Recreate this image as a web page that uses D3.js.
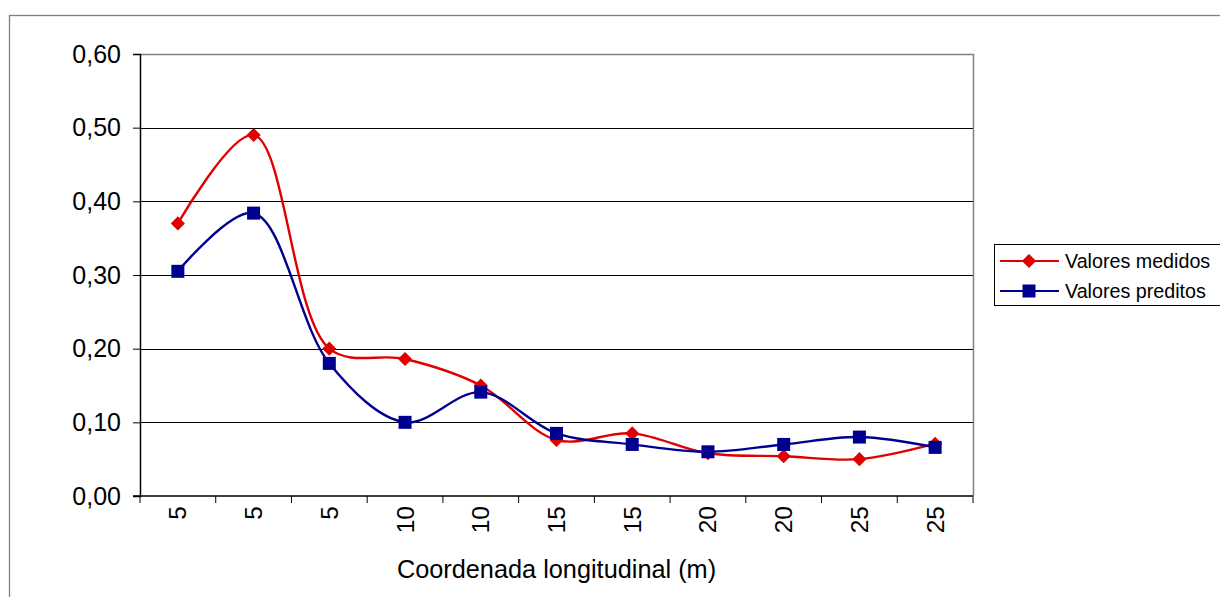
<!DOCTYPE html>
<html><head><meta charset="utf-8">
<script src="https://cdn.jsdelivr.net/npm/d3@7"></script>
<style>body{margin:0;background:#fff}svg{display:block;font-family:"Liberation Sans",Arial,sans-serif}</style>
</head><body><svg id="c" width="1220" height="597"></svg>
<script>
const categories = ["5","5","5","10","10","15","15","20","20","25","25"];
const medidos = [0.37,0.49,0.20,0.186,0.15,0.076,0.085,0.058,0.054,0.05,0.071];
const preditos = [0.305,0.384,0.18,0.10,0.141,0.085,0.07,0.06,0.07,0.08,0.066];
const yTicks = [0,0.1,0.2,0.3,0.4,0.5,0.6];
const seriesNames = ["Valores medidos","Valores preditos"];
const colors = ["#e00000","#000090"];

const svg = d3.select("#c");
const L=140,R=973,T=54,B=496;
// outer chart frame
svg.append("rect").attr("x",9.5).attr("y",15.5).attr("width",1220).attr("height",600)
  .attr("fill","none").attr("stroke","#808080").attr("stroke-width",1.3);

const idx = d3.range(categories.length);
const x = d3.scaleBand().domain(idx).range([L,R]).padding(0);
const y = d3.scaleLinear().domain([0,0.6]).range([B,T]);
const cx = i => x(i)+x.bandwidth()/2;

// gridlines
svg.append("g").selectAll("line").data(yTicks.filter(v=>v>0&&v<0.6)).join("line")
  .attr("x1",L).attr("x2",R).attr("y1",d=>Math.round(y(d))+0.5).attr("y2",d=>Math.round(y(d))+0.5)
  .attr("stroke","#000").attr("stroke-width",1);
// plot border top & right (gray)
svg.append("path").attr("d",`M${L},${T+0.5}H${R+0.5}V${B}`).attr("fill","none").attr("stroke","#808080").attr("stroke-width",1.5);

// y axis
const yAxis = d3.axisLeft(y).tickValues(yTicks).tickSize(7).tickPadding(12)
  .tickFormat(d=>d3.format(".2f")(d).replace(".",","));
const gy = svg.append("g").attr("transform",`translate(${L},0)`).call(yAxis)
  .attr("font-size",null).attr("font-family",null);
gy.select(".domain").attr("stroke","#000").attr("stroke-width",1.5);
gy.selectAll(".tick line").attr("stroke","#000");
gy.selectAll("text").style("font-size","25px").attr("fill","#000");

// x axis with ticks at category boundaries
const gx = svg.append("g").attr("transform",`translate(0,${B})`);
gx.append("line").attr("x1",L-7).attr("x2",R).attr("y1",0).attr("y2",0).attr("stroke","#000").attr("stroke-width",1.5);
gx.selectAll("line.tk").data(d3.range(categories.length+1)).join("line").attr("class","tk")
  .attr("x1",i=>L+i*x.bandwidth()).attr("x2",i=>L+i*x.bandwidth()).attr("y1",0).attr("y2",7)
  .attr("stroke","#000");
gx.selectAll("text").data(idx).join("text")
  .attr("transform",i=>`translate(${cx(i)+8.5},10) rotate(-90)`)
  .attr("text-anchor","end").style("font-size","24.5px").text(i=>categories[i]);

svg.append("text").attr("x",(L+R)/2).attr("y",578).attr("text-anchor","middle")
  .style("font-size","25.3px").text("Coordenada longitudinal (m)");

// lines
const line = d3.line().x((d,i)=>cx(i)).y(d=>y(d)).curve(d3.curveCatmullRom.alpha(0.5));
const data=[medidos,preditos];
data.forEach((s,k)=>{
  svg.append("path").attr("d",line(s)).attr("fill","none").attr("stroke",colors[k]).attr("stroke-width",2.4);
});
// markers
svg.append("g").selectAll("path").data(medidos).join("path")
  .attr("d",d3.symbol(d3.symbolSquare, 100)())
  .attr("transform",(d,i)=>`translate(${cx(i)},${y(d)}) rotate(45)`).attr("fill",colors[0]);
svg.append("g").selectAll("rect").data(preditos).join("rect")
  .attr("x",(d,i)=>cx(i)-6.5).attr("y",d=>y(d)-6.5).attr("width",13).attr("height",13).attr("fill",colors[1]);

// legend
const lg = svg.append("g");
lg.append("rect").attr("x",994.5).attr("y",244.5).attr("width",240).attr("height",61).attr("fill","#fff").attr("stroke","#000");
seriesNames.forEach((n,k)=>{
  const yy = 261 + k*30;
  lg.append("line").attr("x1",1000).attr("x2",1059).attr("y1",yy).attr("y2",yy).attr("stroke",colors[k]).attr("stroke-width",2.2);
  if(k===0) lg.append("path").attr("d",d3.symbol(d3.symbolSquare,100)()).attr("transform",`translate(1029,${yy}) rotate(45)`).attr("fill",colors[0]);
  else lg.append("rect").attr("x",1022.5).attr("y",yy-6.5).attr("width",13).attr("height",13).attr("fill",colors[1]);
  lg.append("text").attr("x",1065).attr("y",yy+7).style("font-size","19.7px").text(n);
});
</script></body></html>
